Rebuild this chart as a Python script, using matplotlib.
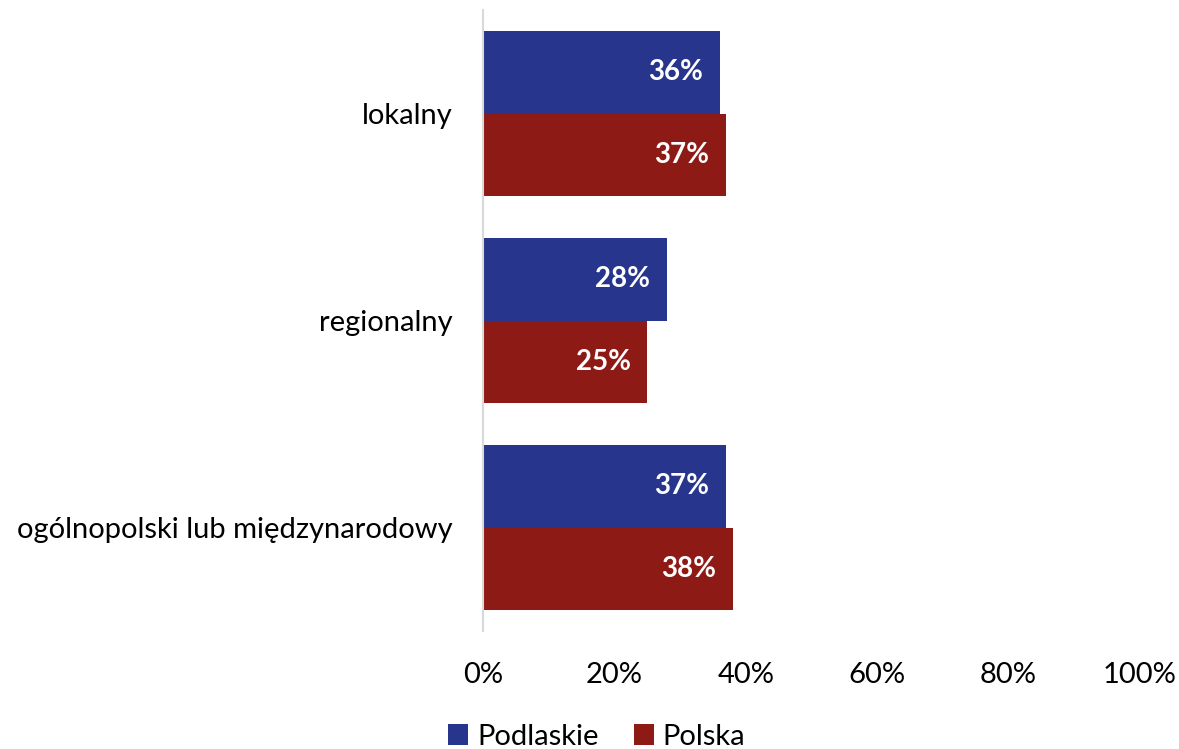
import matplotlib.pyplot as plt
import numpy as np

plt.rcParams['font.family'] = ['Lato', 'DejaVu Sans']

categories = ['lokalny', 'regionalny', 'ogólnopolski lub międzynarodowy']
podlaskie = [36, 28, 37]
polska = [37, 25, 38]
xticks = [0, 20, 40, 60, 80, 100]

blue = '#27358C'
red = '#8E1A16'

fig = plt.figure(figsize=(11.79, 7.49), dpi=100)
ax = fig.add_axes([483 / 1179, 1 - 631 / 749, (1140 - 483) / 1179, 621 / 749])

y = np.arange(len(categories))
h = 0.4
b1 = ax.barh(y - h / 2, podlaskie, height=h, color=blue, label='Podlaskie')
b2 = ax.barh(y + h / 2, polska, height=h, color=red, label='Polska')

for bars in (b1, b2):
    for bar in bars:
        w = bar.get_width()
        ax.annotate(f'{w:.0f}%', (w, bar.get_y() + bar.get_height() / 2),
                    xytext=(-12, 0), textcoords='offset points',
                    ha='right', va='center', color='white',
                    fontsize=20, fontweight='bold')

ax.set_xlim(0, 100)
ax.set_ylim(len(categories) - 0.5, -0.5)
ax.set_yticks(y)
ax.set_yticklabels(categories, fontsize=21)
ax.set_xticks(xticks)
ax.set_xticklabels([f'{t}%' for t in xticks], fontsize=21)
ax.tick_params(axis='both', length=0)
ax.tick_params(axis='y', pad=22)
ax.tick_params(axis='x', pad=22)

for s in ['top', 'right', 'bottom']:
    ax.spines[s].set_visible(False)
ax.spines['left'].set_color('#D9D9D9')
ax.spines['left'].set_linewidth(1.5)

fig.legend(loc='lower center', bbox_to_anchor=(0.506, -0.036), ncol=2,
           frameon=False, fontsize=21, handlelength=0.7, handleheight=0.7,
           handletextpad=0.3, columnspacing=1.2)

fig.savefig('out.png', dpi=100)
